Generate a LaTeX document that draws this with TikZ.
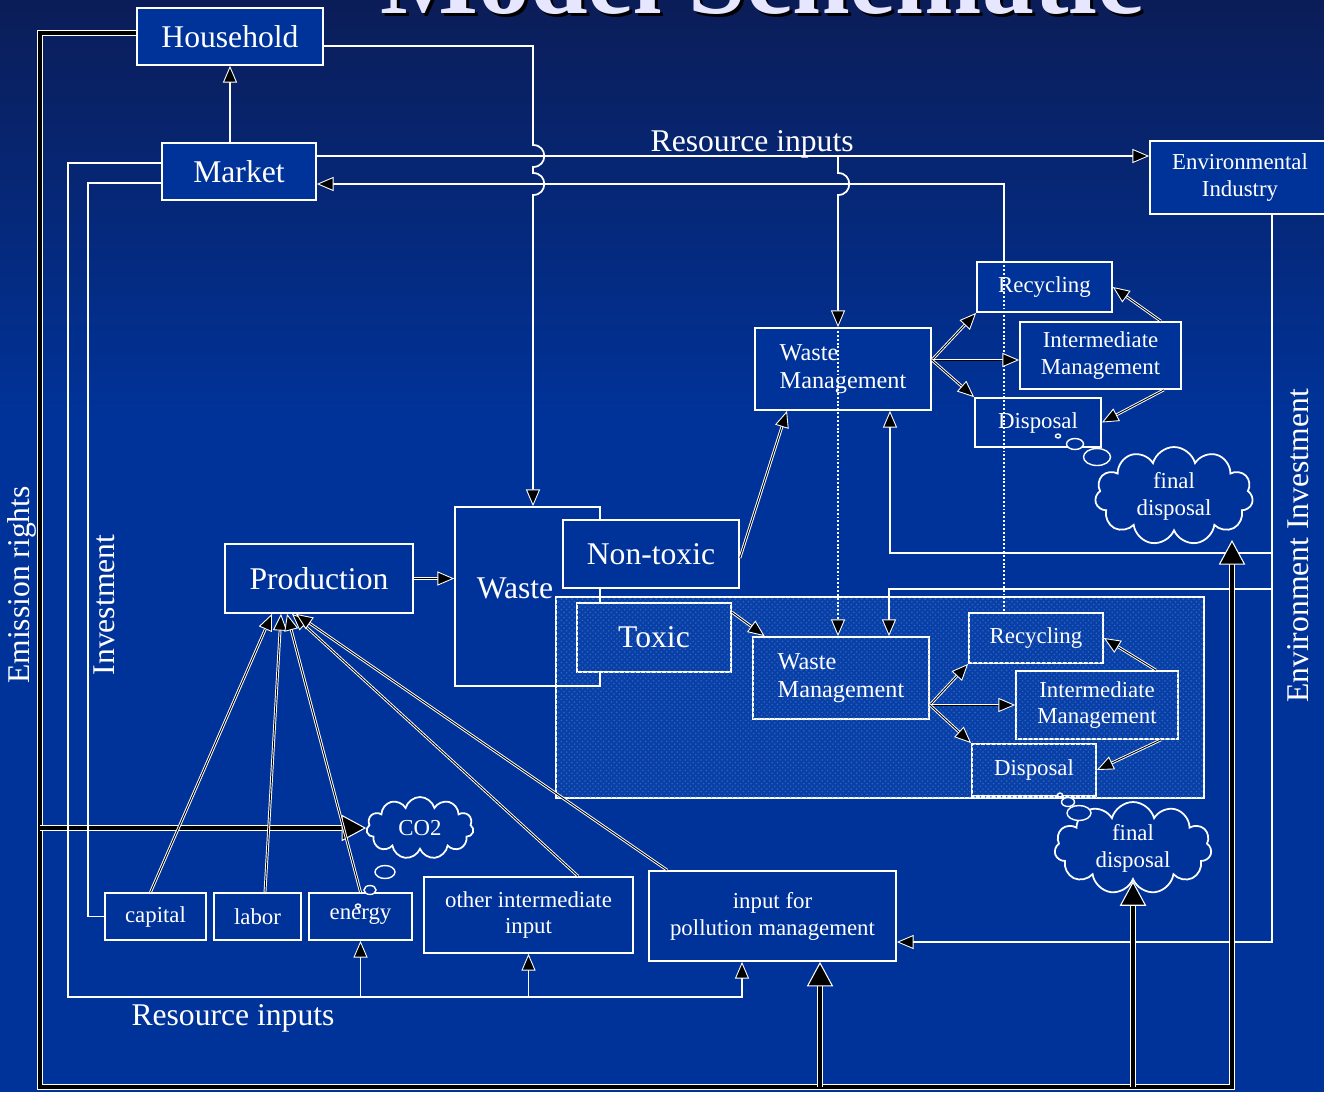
\documentclass[tikz,border=0pt]{standalone}
\usepackage{fontspec}
\setmainfont{Liberation Serif}
\usetikzlibrary{arrows.meta,shapes.symbols,patterns}
\definecolor{bgtop}{HTML}{0B1D58}
\definecolor{boxblue}{HTML}{003399}
\definecolor{toxblue}{HTML}{0A3FA6}
\definecolor{speck}{HTML}{2466C6}
\definecolor{titlecol}{HTML}{E6E6FF}

\begin{document}
\begin{tikzpicture}[x=0.02cm, y=-0.02cm, line width=1pt,
  bigtext/.style={font=\fontsize{18}{21}\selectfont},
  smalltext/.style={font=\fontsize{13}{15.3}\selectfont},
  wmtext/.style={font=\fontsize{13.8}{16}\selectfont},
  box/.style={draw=white, fill=boxblue, text=white, inner sep=0pt, align=center},
  link/.style={draw=white, line width=1pt},
  dlink/.style={draw=white, line width=0.55pt, double=black, double distance=0.5pt},
  fatlink/.style={draw=white, line width=0.9pt, double=black, double distance=1.8pt},
  dotlink/.style={draw=white, line width=1.1pt, dash pattern=on 1.1pt off 1.1pt},
  arr/.style={-{Triangle[length=9.5pt, width=8pt, fill=black, line width=0.5pt]}},
  bigarr/.style={-{Triangle[length=14pt, width=15pt, fill=black, line width=0.6pt]}},
  puff/.style={cloud, cloud puffs=11, cloud ignores aspect, draw=white, fill=boxblue,
    text=white, inner sep=0pt, align=center},
  bubble/.style={draw=white, fill=boxblue, line width=0.8pt}]

  \useasboundingbox (0,0) rectangle (1324,1092);
  \shade[top color=bgtop, bottom color=boxblue] (0,0) rectangle (1324,420);
  \fill[boxblue] (0,420) rectangle (1324,1092);

  % title, cut by the top edge
  \node[font=\bfseries\fontsize{59}{60}\selectfont, text=black, anchor=base] (ttlshadow) at (765,16) {Model Schematic};
  \node[font=\bfseries\fontsize{59}{60}\selectfont, text=titlecol, anchor=base] (title) at (762,13) {Model Schematic};

  % boxes
  \node[box, bigtext, minimum width=3.72cm, minimum height=1.14cm] (hh) at (230,36.5) {Household};
  \node[box, bigtext, minimum width=3.08cm, minimum height=1.14cm] (mkt) at (239,171.5) {Market};
  \node[box, smalltext, minimum width=3.6cm, minimum height=1.46cm] (envind) at (1240,177.5) {Environmental\\Industry};
  \node[box, bigtext, minimum width=3.76cm, minimum height=1.38cm] (prod) at (319,578.5) {Production};

  \node[draw=white, fill=toxblue, minimum width=12.96cm, minimum height=4.02cm, inner sep=0pt,
    postaction={pattern=crosshatch dots, pattern color=speck}] (toxreg) at (880,697.5) {};
  \node[draw=white, text=white, bigtext, minimum width=2.9cm, minimum height=3.58cm, inner sep=0pt] (waste) at (527.5,596.5) {\raisebox{0.32cm}{Waste}\hspace*{0.5cm}};
  \node[box, bigtext, minimum width=3.52cm, minimum height=1.36cm] (nontox) at (651,554) {Non-toxic};
  \node[box, bigtext, fill=toxblue, minimum width=3.08cm, minimum height=1.38cm,
    postaction={pattern=crosshatch dots, pattern color=speck}] (tox) at (654,637.5) {Toxic};

  \node[box, wmtext, align=left, minimum width=3.52cm, minimum height=1.64cm] (wm1) at (843,369) {Waste\\Management};
  \node[box, smalltext, minimum width=2.7cm, minimum height=1.0cm] (rec1) at (1044.5,287) {Recycling};
  \node[box, smalltext, minimum width=3.22cm, minimum height=1.34cm] (im1) at (1100.5,355.5) {Intermediate\\Management};
  \node[box, smalltext, minimum width=2.52cm, minimum height=0.98cm] (dis1) at (1038,422.5) {Disposal};

  \node[box, wmtext, align=left, fill=toxblue, minimum width=3.52cm, minimum height=1.64cm,
    postaction={pattern=crosshatch dots, pattern color=speck}] (wm2) at (841,678) {Waste\\Management};
  \node[box, smalltext, fill=toxblue, minimum width=2.68cm, minimum height=1.0cm,
    postaction={pattern=crosshatch dots, pattern color=speck}] (rec2) at (1036,638) {Recycling};
  \node[box, smalltext, fill=toxblue, minimum width=3.24cm, minimum height=1.36cm,
    postaction={pattern=crosshatch dots, pattern color=speck}] (im2) at (1097,705) {Intermediate\\Management};
  \node[box, smalltext, fill=toxblue, minimum width=2.48cm, minimum height=1.04cm,
    postaction={pattern=crosshatch dots, pattern color=speck}] (dis2) at (1034,770) {Disposal};

  \node[box, smalltext, minimum width=2.02cm, minimum height=0.94cm] (cap) at (155.5,916.5) {capital};
  \node[box, smalltext, minimum width=1.74cm, minimum height=0.94cm] (lab) at (257.5,916.5) {labor};
  \node[box, smalltext, minimum width=2.06cm, minimum height=0.94cm] (ene) at (360.5,916.5) {energy};
  \node[box, smalltext, minimum width=4.18cm, minimum height=1.52cm] (oth) at (528.5,915) {other intermediate\\input};
  \node[box, smalltext, minimum width=4.94cm, minimum height=1.8cm] (pol) at (772.5,916) {input for\\pollution management};

  % clouds and their bubbles
  \node[puff, smalltext, minimum width=3.16cm, minimum height=1.96cm] (cl1) at (1174,496) {final\\disposal};
  \node[puff, smalltext, minimum width=3.14cm, minimum height=1.84cm] (cl2) at (1133,848) {final\\disposal};
  \node[puff, smalltext, minimum width=2.14cm, minimum height=1.24cm] (co2) at (420,828) {CO2};
  \draw[bubble] (1058,436) ellipse [x radius=2.5, y radius=2];
  \draw[bubble] (1075,444) ellipse [x radius=8.5, y radius=5.5];
  \draw[bubble] (1097,457) ellipse [x radius=13.5, y radius=8.5];
  \draw[bubble] (1060,795) ellipse [x radius=2.5, y radius=2];
  \draw[bubble] (1068,802) ellipse [x radius=6.5, y radius=4.5];
  \draw[bubble] (1079,813) ellipse [x radius=12, y radius=7.5];
  \draw[bubble] (358,906) ellipse [x radius=2.5, y radius=2];
  \draw[bubble] (370,890) ellipse [x radius=6, y radius=4.5];
  \draw[bubble] (385,872) ellipse [x radius=10, y radius=6.5];

  % market, household and resource flows
  \draw[link, arr] (mkt.north -| hh.south) -- (hh.south);
  \coordinate (hw) at (533,46);
  \draw[link, arr] ([yshift=-0.19cm]hh.east) -- (hw) -- (533,145)
    .. controls (548,145) and (548,167) .. (533,167) -- (533,173)
    .. controls (548,173) and (548,195) .. (533,195) -- (waste.north -| hw);
  \coordinate (ri) at ([yshift=0.31cm]mkt.east);
  \draw[link, arr] (ri) -- node[bigtext, text=white, above=-5pt, pos=0.523] (rilabtop) {Resource inputs} (ri -| envind.west);
  \coordinate (rc) at ([xshift=0.56cm]rec1.north west);
  \draw[link, arr] (rc) |- ([yshift=-0.25cm]mkt.east);
  \coordinate (wmin) at ([xshift=-0.1cm]wm1.north);
  \draw[link, arr] (wmin |- ri) -- (838,173)
    .. controls (853,173) and (853,195) .. (838,195) -- (wmin);
  \draw[dotlink, arr] (wmin) -- (wmin |- wm2.north);
  \draw[dotlink] (rc) -- (rc |- rec2.north);

  % environment investment
  \coordinate (eix) at (1272,942);
  \draw[link, arr] (envind.south -| eix) -- (eix) -- (eix -| pol.east);
  \draw[link, arr] (1272,553) -| ([xshift=0.94cm]wm1.south);
  \draw[link, arr] (1272,589) -| ([xshift=0.96cm]wm2.north);
  \node[bigtext, text=white, rotate=90] (envlab) at (1298,546) {Environment Investment};

  % emission rights
  \coordinate (emx) at (40,1087);
  \coordinate (pin) at ([xshift=0.95cm]pol.south);
  \draw[fatlink, bigarr] ([yshift=0.07cm]hh.west) -| (emx) -| ([xshift=1.16cm, yshift=-0.88cm]cl1.center);
  \draw[fatlink, bigarr] (emx |- co2.west) -- (co2.west);
  \draw[fatlink, bigarr] (emx -| pin) -- (pin);
  \draw[fatlink, bigarr] (emx -| cl2.south) -- (cl2.south);
  \node[bigtext, text=white, rotate=90] (emlab) at (22,585) {Emission rights};

  % investment and resource inputs at the bottom
  \coordinate (rb) at (68,997);
  \draw[link, arr] ([yshift=0.17cm]mkt.west) -| (rb) -| ([xshift=-0.61cm]pol.south);
  \draw[link, arr] (rb -| ene.south) -- (ene.south);
  \draw[link, arr] (rb -| oth.south) -- (oth.south);
  \draw[link] ([yshift=-0.23cm]mkt.west) -| ([xshift=-0.32cm]cap.west) -- (cap.west);
  \node[bigtext, text=white, rotate=90] (invlab) at (104,605) {Investment};
  \node[bigtext, text=white] (rilabbot) at (233,1018) {Resource inputs};

  % inputs into production
  \draw[dlink, arr] ([xshift=-0.1cm]cap.north) -- ([xshift=-0.94cm]prod.south);
  \draw[dlink, arr] ([xshift=0.15cm]lab.north) -- ([xshift=-0.76cm]prod.south);
  \draw[dlink, arr] (ene.north) -- ([xshift=-0.64cm]prod.south);
  \draw[dlink, arr] ([xshift=0.99cm]oth.north) -- ([xshift=-0.54cm]prod.south);
  \draw[dlink, arr] ([xshift=0.38cm]pol.north west) -- ([xshift=-0.46cm]prod.south);

  % waste streams
  \draw[dlink, arr] (prod.east) -- (prod.east -| waste.west);
  \draw[dlink, arr] ([yshift=-0.08cm]nontox.east) -- ([xshift=-1.12cm]wm1.south);
  \draw[dlink, arr] ([yshift=-0.2cm]tox.north east) -- ([xshift=0.25cm]wm2.north west);

  \coordinate (fa) at ([yshift=0.18cm]wm1.east);
  \draw[dlink, arr] (fa) -- (rec1.south west);
  \draw[dlink, arr] (fa) -- (fa -| im1.west);
  \draw[dlink, arr] (fa) -- (dis1.north west);
  \draw[dlink, arr] ([xshift=-0.42cm]im1.north east) -- (rec1.east);
  \draw[dlink, arr] ([xshift=-0.36cm]im1.south east) -- (dis1.east);

  \coordinate (fb) at ([yshift=-0.54cm]wm2.east);
  \draw[dlink, arr] (fb) -- (rec2.south west);
  \draw[dlink, arr] (fb) -- (fb -| im2.west);
  \draw[dlink, arr] (fb) -- (dis2.north west);
  \draw[dlink, arr] ([xshift=-0.46cm]im2.north east) -- (rec2.east);
  \draw[dlink, arr] ([xshift=-0.36cm]im2.south east) -- (dis2.east);
\end{tikzpicture}
\end{document}
